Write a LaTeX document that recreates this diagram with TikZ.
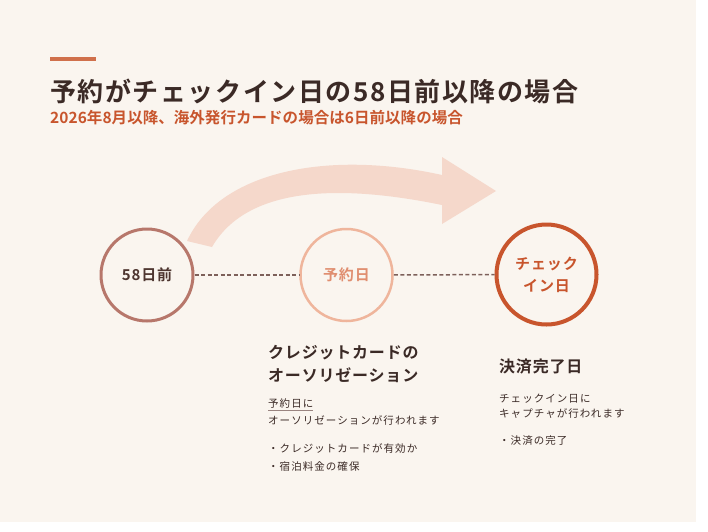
\documentclass[tikz,border=0pt]{standalone}
\usepackage{fontspec}
\setmainfont{Noto Sans CJK JP}[BoldFont=Noto Sans CJK JP Bold]
\newfontfamily\jptitle{Noto Sans CJK JP Bold}[LetterSpace=6]
\newfontfamily\jpsub{Noto Sans CJK JP Bold}[LetterSpace=0.3]
\newfontfamily\jphead{Noto Sans CJK JP Bold}[LetterSpace=5]
\newfontfamily\jpsmall{Noto Sans CJK JP}[LetterSpace=10]
\newfontfamily\jpcirc{Noto Sans CJK JP Bold}[LetterSpace=6]
\definecolor{bgcream}{HTML}{FAF5EF}
\definecolor{darktext}{HTML}{3B2A26}
\definecolor{accent}{HTML}{C8552D}
\definecolor{barcol}{HTML}{D0704B}
\definecolor{cirA}{HTML}{B7776B}
\definecolor{cirB}{HTML}{EFB59C}
\definecolor{txtB}{HTML}{E08E70}
\definecolor{arrowfill}{HTML}{F5D8CB}
\definecolor{dashcol}{HTML}{7D605A}
\definecolor{ulcol}{HTML}{9A8480}
\begin{document}
\begin{tikzpicture}[x=1pt,y=-1pt,
  txt/.style={inner sep=0pt,anchor=base west,text=darktext},
  stage/.style={circle,inner sep=0pt,fill=bgcream,align=center,font=\jpcirc\fontsize{15}{22}\selectfont},
  link/.style={dashcol,line width=1.5pt,dash pattern=on 4pt off 2.5pt}]
\fill[white] (0,0) rectangle (708,531);
\fill[bgcream] (0,0) rectangle (696,522);
\useasboundingbox (0,0) rectangle (708,531);
% accent bar
\fill[barcol] (50,57) rectangle (96,61);
% title
\node[txt] (title) at (50,101) {\jptitle\fontsize{26}{30}\selectfont 予約がチェックイン日の58日前以降の場合};
\node[txt,text=accent] (sub) at (50,123) {\jpsub\fontsize{15.5}{18}\selectfont 2026年8月以降、海外発行カードの場合は6日前以降の場合};
% big arrow
\fill[arrowfill] (187,241) .. controls (220,170) and (330,150) .. (442,175)
  -- (442,157) -- (496,191) -- (442,224) -- (442,205)
  .. controls (330,182) and (245,190) .. (212,247) -- cycle;
% circles
\node[stage,draw=cirA,line width=3pt,minimum size=92pt,text=darktext!85!cirA] (c1) at (147,275) {58日前};
\node[stage,draw=cirB,line width=2.5pt,minimum size=92pt,text=txtB] (c2) at (346.5,275) {予約日};
\node[stage,draw=accent,line width=4pt,minimum size=100pt,text=accent] (c3) at (546.5,274.5) {チェック\\イン日};
\draw[link] (c1) -- (c2);
\draw[link] (c2) -- (c3);
% block 2
\node[txt] (h2a) at (268,358) {\jphead\fontsize{16}{20}\selectfont クレジットカードの};
\node[txt] (h2b) at (268,381) {\jphead\fontsize{16}{20}\selectfont オーソリゼーション};
\node[txt] (d2a) at (268,407) {\jpsmall\fontsize{10.5}{13}\selectfont 予約日に};
\draw[ulcol,line width=1pt] ([yshift=-3.5pt]d2a.base west) -- ([yshift=-3.5pt,xshift=-1pt]d2a.base east);
\node[txt] (d2b) at (268,424) {\jpsmall\fontsize{10.5}{13}\selectfont オーソリゼーションが行われます};
\node[txt] (d2c) at (268,452) {\jpsmall\fontsize{10.5}{13}\selectfont ・クレジットカードが有効か};
\node[txt] (d2d) at (268,470) {\jpsmall\fontsize{10.5}{13}\selectfont ・宿泊料金の確保};
% block 3
\node[txt] (h3) at (499,372) {\jphead\fontsize{16}{20}\selectfont 決済完了日};
\node[txt] (d3a) at (499,402) {\jpsmall\fontsize{10.5}{13}\selectfont チェックイン日に};
\node[txt] (d3b) at (499,417) {\jpsmall\fontsize{10.5}{13}\selectfont キャプチャが行われます};
\node[txt] (d3c) at (499,444) {\jpsmall\fontsize{10.5}{13}\selectfont ・決済の完了};
\end{tikzpicture}
\end{document}
